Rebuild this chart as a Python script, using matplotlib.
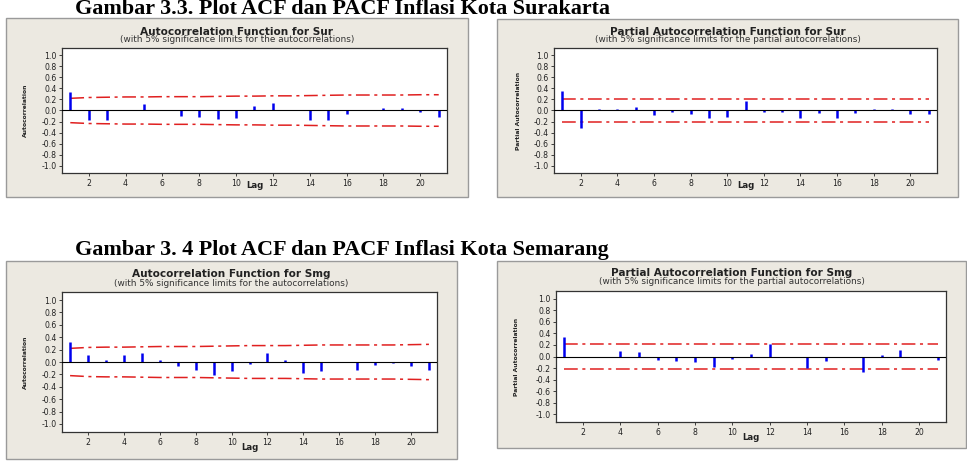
import matplotlib
matplotlib.use('Agg')
import matplotlib.pyplot as plt
import numpy as np
from matplotlib.patches import Rectangle

# lags 1..21
lags = np.arange(1, 22)

# ACF / PACF Surakarta
acf_sur = [0.34, -0.17, -0.18, 0.0, 0.115, 0.005, -0.10, -0.11, -0.15, -0.14, 0.09,
           0.14, 0.0, -0.18, -0.17, -0.06, 0.0, 0.05, 0.05, -0.03, -0.11]
acf_sur_lim = [0.22, 0.235, 0.24, 0.245, 0.245, 0.25, 0.25, 0.25, 0.255, 0.26, 0.26,
               0.265, 0.265, 0.27, 0.275, 0.28, 0.28, 0.28, 0.28, 0.285, 0.285]
pacf_sur = [0.35, -0.32, 0.02, 0.02, 0.07, -0.085, -0.03, -0.07, -0.14, -0.11, 0.17,
            -0.025, -0.03, -0.13, -0.04, -0.13, -0.05, 0.03, 0.025, -0.065, -0.055]
pacf_sur_lim = [0.215] * 21

# ACF / PACF Semarang
acf_smg = [0.33, 0.11, 0.04, 0.11, 0.14, 0.025, -0.07, -0.135, -0.205, -0.14, -0.04,
           0.145, 0.04, -0.17, -0.145, -0.005, -0.125, -0.05, -0.02, -0.07, -0.125]
acf_smg_lim = [0.22, 0.235, 0.24, 0.24, 0.245, 0.25, 0.25, 0.25, 0.255, 0.26, 0.265,
               0.265, 0.265, 0.27, 0.275, 0.275, 0.275, 0.275, 0.275, 0.28, 0.285]
pacf_smg = [0.33, 0.0, 0.0, 0.09, 0.08, -0.055, -0.085, -0.10, -0.175, -0.04, 0.05,
            0.21, 0.0, -0.195, -0.075, 0.0, -0.27, 0.02, 0.11, -0.005, -0.055]
pacf_smg_lim = [0.215] * 21

W, H = 967, 470
fig = plt.figure(figsize=(W / 100, H / 100), dpi=100)
fig.patch.set_facecolor('white')

def fx(x):
    return x / W

def fy(y):
    return 1 - y / H

def panel(frame, plot, ty, sy, ylx, lagy, vals, lim, title, sub, ylab):
    l, t, r, b = frame
    fig.patches.append(Rectangle((fx(l), fy(b)), fx(r - l), (b - t) / H,
                                 transform=fig.transFigure, facecolor='#ECE9E1',
                                 edgecolor='#9A9A9A', lw=1.0, zorder=-5))
    pl, pt, pr, pb = plot
    ax = fig.add_axes([fx(pl), fy(pb), fx(pr - pl), (pb - pt) / H])
    ax.set_zorder(2)
    ax.set_facecolor('white')
    ax.vlines(lags, 0, vals, color='#0000EE', lw=1.8, zorder=3)
    dash = (0, (9, 3, 2, 3))
    ax.plot(lags, lim, color='#E02020', lw=1.1, ls=dash, zorder=2)
    ax.plot(lags, -np.array(lim), color='#E02020', lw=1.1, ls=dash, zorder=2)
    ax.axhline(0, color='black', lw=0.8, zorder=4)
    ax.set_xlim(0.55, 21.45)
    ax.set_ylim(-1.13, 1.13)
    ax.set_xticks(range(2, 21, 2))
    yt = np.round(np.arange(-1.0, 1.01, 0.2), 1)
    ax.set_yticks(yt)
    ax.set_yticklabels(['%.1f' % v if v != 0 else '0.0' for v in yt])
    ax.tick_params(labelsize=5.6, length=2.5, width=0.6, pad=1.5, colors='#222222')
    for s in ax.spines.values():
        s.set_linewidth(0.9)
        s.set_color('#333333')
    cx = (l + r) / 2
    fig.text(fx(cx), fy(ty), title, ha='center', va='center', fontsize=7.6,
             fontweight='bold', color='#222222')
    fig.text(fx(cx), fy(sy), sub, ha='center', va='center', fontsize=6.4,
             color='#333333')
    fig.text(fx((pl + pr) / 2), fy(lagy), 'Lag', ha='center', va='center',
             fontsize=6.2, fontweight='bold', color='#222222')
    fig.text(fx(ylx), fy((pt + pb) / 2), ylab, ha='center', va='center',
             rotation=90, fontsize=4.3, fontweight='bold', color='#222222')
    return ax

sub_acf = '(with 5% significance limits for the autocorrelations)'
sub_pacf = '(with 5% significance limits for the partial autocorrelations)'

fig.text(fx(75), fy(14), 'Gambar 3.3. Plot ACF dan PACF Inflasi Kota Surakarta',
         ha='left', va='baseline', fontsize=15.9, fontweight='bold',
         family=['Liberation Serif', 'DejaVu Serif'])
fig.text(fx(75), fy(255), 'Gambar 3. 4 Plot ACF dan PACF Inflasi Kota Semarang',
         ha='left', va='baseline', fontsize=15.9, fontweight='bold',
         family=['Liberation Serif', 'DejaVu Serif'])

panel((6, 18, 468, 197), (62, 48, 447, 173), 32, 40, 25, 186,
      acf_sur, acf_sur_lim, 'Autocorrelation Function for Sur', sub_acf, 'Autocorrelation')
panel((497, 19, 958, 197), (554, 48, 937, 173), 32, 40, 518, 186,
      pacf_sur, pacf_sur_lim, 'Partial Autocorrelation Function for Sur', sub_pacf,
      'Partial Autocorrelation')
panel((6, 261, 457, 459), (62, 292, 437, 432), 274, 283, 25, 448,
      acf_smg, acf_smg_lim, 'Autocorrelation Function for Smg', sub_acf, 'Autocorrelation')
panel((497, 261, 966, 448), (556, 291, 946, 422), 273, 282, 517, 437,
      pacf_smg, pacf_smg_lim, 'Partial Autocorrelation Function for Smg', sub_pacf,
      'Partial Autocorrelation')

fig.savefig('out.png', dpi=100, facecolor='white')
